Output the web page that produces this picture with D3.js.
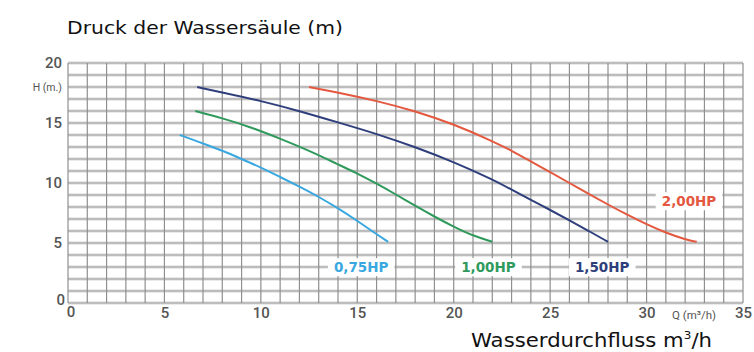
<!DOCTYPE html>
<html><head><meta charset="utf-8">
<script src="https://cdn.jsdelivr.net/npm/d3@7"></script>
<style>body{margin:0;background:#fff}svg{display:block}</style>
</head><body>
<script>
const xTicks = [0,5,10,15,20,25,30,35];
const yTicks = [0,5,10,15,20];
const seriesNames = ["0,75HP","1,00HP","1,50HP","2,00HP"];
const seriesColors = ["#3aa8e0","#2f9a5c","#2f3f7c","#e4583f"];
const hp075 = [[5.8,14],[7,13.3],[8,12.7],[9,12.0],[10,11.3],[11,10.5],[12,9.7],[13,8.85],[14,7.9],[15,6.85],[15.8,5.95],[16.6,5.1]];
const hp100 = [[6.6,16],[8,15.4],[9.4,14.7],[11,13.7],[12.5,12.7],[14,11.55],[15,10.8],[16,9.95],[17,9.05],[18,8.1],[19,7.2],[20,6.35],[21,5.6],[22,5.1]];
const hp150 = [[6.7,18],[8,17.55],[10,16.85],[12,16.0],[14,15.05],[16,14.1],[18,13.0],[20,11.75],[22,10.3],[23,9.45],[24,8.6],[25,7.75],[26,6.9],[27,6.0],[28,5.1]];
const hp200 = [[12.5,18],[14,17.55],[16,16.85],[18,16.0],[20,14.9],[22,13.5],[23,12.7],[24,11.8],[25,10.9],[26,10.0],[27,9.1],[28,8.2],[29,7.35],[30,6.55],[31,5.85],[32,5.3],[32.6,5.1]];
const labelPos = [[15.2,2.9],[21.8,2.9],[27.7,2.9],[32.2,8.4]];

const W=754,H=352;
const svg=d3.select("body").append("svg").attr("width",W).attr("height",H);
const x=d3.scaleLinear().domain([0,35]).range([68,743]);
const y=d3.scaleLinear().domain([0,20]).range([303,63]);

// grid
const g=svg.append("g");
g.selectAll("line.h").data(d3.range(0,21)).enter().append("line")
 .attr("x1",x(0)).attr("x2",x(35)).attr("y1",d=>y(d)).attr("y2",d=>y(d))
 .attr("stroke","#d6d6d6").attr("stroke-width",3);
g.selectAll("line.h2").data(d3.range(0,21)).enter().append("line")
 .attr("x1",x(0)).attr("x2",x(35)).attr("y1",d=>y(d)).attr("y2",d=>y(d))
 .attr("stroke","#a3a3a3").attr("stroke-width",1);
g.selectAll("line.v").data(d3.range(0,36)).enter().append("line")
 .attr("x1",d=>x(d)).attr("x2",d=>x(d)).attr("y1",y(0)).attr("y2",y(20))
 .attr("stroke","#8f8f8f").attr("stroke-width",1.2);

// axes labels
const tickFont="Roboto, sans-serif";
const styleTicks=a=>{a.select(".domain").remove();a.selectAll("text").attr("font-size",15).attr("font-family",tickFont).attr("fill","#555").attr("font-weight",500);};
svg.append("g").attr("transform",`translate(${x(0)},0)`)
 .call(d3.axisLeft(y).tickValues(yTicks.filter(v=>v>0)).tickSize(0).tickPadding(6)).call(styleTicks);
svg.append("g").attr("transform",`translate(0,${y(0)})`)
 .call(d3.axisBottom(x).tickValues(xTicks.filter(v=>v>0)).tickSize(0).tickPadding(4)).call(styleTicks);
// zeros
svg.append("text").attr("x",x(0)-3).attr("y",y(0)+2).attr("text-anchor","end").attr("font-size",15).attr("font-family",tickFont).attr("font-weight",500).attr("fill","#555").text(yTicks[0]);
svg.append("text").attr("x",x(0)+3).attr("y",y(0)+14).attr("text-anchor","middle").attr("font-size",15).attr("font-family",tickFont).attr("font-weight",500).attr("fill","#555").text(xTicks[0]);
svg.append("text").attr("x",62).attr("y",y(18)+4).attr("text-anchor","end").attr("font-size",10.5).attr("font-family",tickFont).attr("fill","#555").text("H (m.)");
svg.append("text").attr("x",694).attr("y",y(0)+16).attr("text-anchor","middle").attr("font-size",11.5).attr("font-family",tickFont).attr("fill","#555").text("Q (m³/h)");

// curves
const line=d3.line().x(d=>x(d[0])).y(d=>y(d[1])).curve(d3.curveBasis);
[hp075,hp100,hp150,hp200].forEach((s,i)=>{
  svg.append("path").datum(s).attr("d",line).attr("fill","none").attr("stroke",seriesColors[i]).attr("stroke-width",2);
});
// labels
seriesNames.forEach((n,i)=>{
  const t=svg.append("text").attr("x",x(labelPos[i][0])).attr("y",y(labelPos[i][1])).attr("text-anchor","middle")
   .attr("dominant-baseline","middle").attr("font-size",13.5).attr("font-weight",700).attr("font-family","DejaVu Sans, sans-serif")
   .attr("fill",seriesColors[i]).text(n);
  const b=t.node().getBBox();
  svg.insert("rect",()=>t.node()).attr("x",b.x-6).attr("y",b.y-1).attr("width",b.width+12).attr("height",b.height+2).attr("fill","#fff");
});

// titles
svg.append("text").attr("x",67).attr("y",34).attr("font-size",18).attr("font-family","DejaVu Sans, sans-serif")
 .attr("textLength",276).attr("lengthAdjust","spacingAndGlyphs").attr("fill","#111").text("Druck der Wassersäule (m)");
const tt=svg.append("text").attr("x",471).attr("y",347).attr("font-size",19.5).attr("font-family","DejaVu Sans, sans-serif").attr("fill","#111")
 .attr("textLength",241).attr("lengthAdjust","spacingAndGlyphs");
tt.append("tspan").text("Wasserdurchfluss m");
tt.append("tspan").attr("font-size",11).attr("dy",-8).text("3");
tt.append("tspan").attr("dy",8).text("/h");
</script>
</body></html>
